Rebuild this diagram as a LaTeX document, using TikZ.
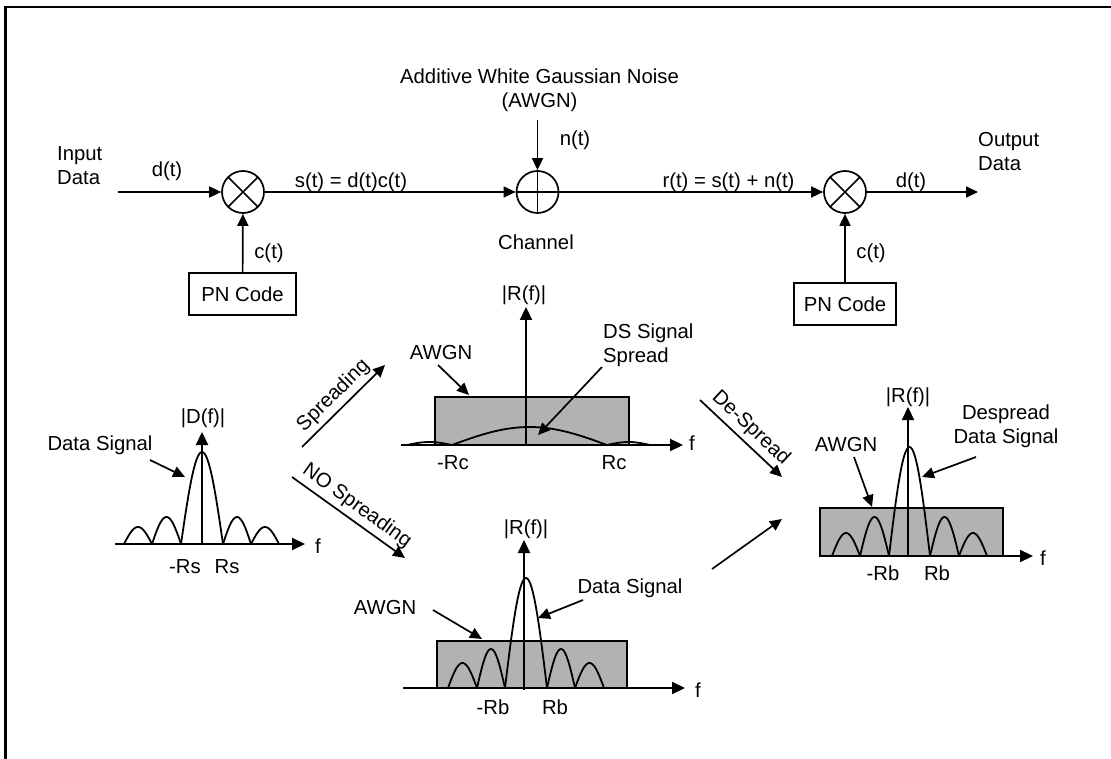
\documentclass[tikz,border=0pt]{standalone}
\usepackage{fontspec}
\setmainfont{Liberation Sans}
\usetikzlibrary{arrows.meta}
\newcommand\fs{\fontsize{20.3}{24}\selectfont}
\newcommand\sinclobe[4]{\draw[lobe] plot[domain=0:1, samples=31, variable=\t] ({#1+(#2-#1)*\t},{#3-#4*sin(180*\t)});}
\definecolor{noisegray}{RGB}{178,178,178}
\tikzset{
  conn/.style={line width=1.7pt, -{Triangle[length=12pt,width=11pt]}},
  axisarrow/.style={line width=2.2pt, -{Triangle[length=13pt,width=12pt]}},
  lobe/.style={line width=1.8pt, line join=round},
  lbl/.style={inner sep=0pt},
  slopelbl/.style={inner sep=4pt, sloped, above},
  noisebox/.style={fill=noisegray, draw, line width=1.2pt},
  mult/.style={draw, circle, line width=1.7pt, minimum size=42pt, inner sep=0pt,
    path picture={\draw[line width=1.6pt] (path picture bounding box.north west) -- (path picture bounding box.south east)
      (path picture bounding box.north east) -- (path picture bounding box.south west);}},
  adder/.style={draw, circle, line width=1.7pt, minimum size=42pt, inner sep=0pt,
    path picture={\draw[line width=1.6pt] (path picture bounding box.north) -- (path picture bounding box.south)
      (path picture bounding box.west) -- (path picture bounding box.east);}},
  pnbox/.style={draw, line width=1.7pt, minimum height=42pt, inner sep=0pt}
}
\begin{document}
\begin{tikzpicture}[x=1pt,y=-1pt,font=\fs]
\useasboundingbox (0,0) rectangle (1111,759);
% frame
\draw[line width=2.2pt] (5.5,780) -- (5.5,7.3) -- (1130,7.3);

% ---------- top block diagram ----------
\node[mult] (m1) at (243,192) {};
\node[adder] (ad) at (537.5,192) {};
\node[mult] (m2) at (845,192) {};
\node[pnbox, minimum width=107pt] (pn1) at (242.5,294) {PN Code};
\node[pnbox, minimum width=102pt] (pn2) at (845,304) {PN Code};
\coordinate (in) at (118,192);
\coordinate (out) at (978,192);
\coordinate (nsrc) at (537.5,120);

\draw[conn] (in) -- (m1);
\draw[conn] (m1) -- (ad);
\draw[conn] (nsrc) -- (ad);
\draw[conn] (ad) -- (m2);
\draw[conn] (m2) -- (out);
\draw[conn] (pn1) -- (m1);
\draw[conn] (pn2) -- (m2);

\node[lbl, anchor=west, align=left] (inlbl) at (57,166) {Input\\Data};
\node[lbl] (dt1) at (167,171) {d(t)};
\node[lbl] (st) at (351,182) {s(t) = d(t)c(t)};
\node[lbl, align=center] (awgn) at (539.5,90.5) {Additive White Gaussian Noise\\(AWGN)};
\node[lbl] (nt) at (575,140) {n(t)};
\node[lbl] (chan) at (536,242) {Channel};
\node[lbl] (rt) at (728.5,182) {r(t) = s(t) + n(t)};
\node[lbl] (dt2) at (911,182) {d(t)};
\node[lbl, anchor=west, align=left] (outlbl) at (978,151.5) {Output\\Data};
\node[lbl] (ct1) at (269,253) {c(t)};
\node[lbl] (ct2) at (871,253) {c(t)};

% ---------- left spectrum |D(f)| ----------
\sinclobe{124}{152}{544}{17}
\sinclobe{152}{181}{544}{27}
\sinclobe{181}{223}{544}{92}
\sinclobe{223}{251}{544}{27}
\sinclobe{251}{279}{544}{17}
\draw[axisarrow] (115,544) -- (305,544);
\draw[axisarrow] (202,545) -- (202,432);
\node[lbl] (dlbl) at (203,418) {|D(f)|};
\node[lbl] (f1) at (318,546) {f};
\node[lbl] (rs1) at (185,567) {-Rs};
\node[lbl] (rs2) at (227,567) {Rs};
\node[lbl] (dsig1) at (100,445) {Data Signal};
\coordinate (dsig1a) at (150,460);
\coordinate (dsig1b) at (185,477);
\draw[conn] (dsig1a) -- (dsig1b);

% ---------- spreading arrows ----------
\coordinate (sp1) at (302,447);
\coordinate (sp2) at (385,365);
\draw[conn] (sp1) -- node[slopelbl] {Spreading} (sp2);
\coordinate (nsp1) at (292,477);
\coordinate (nsp2) at (405,558);
\draw[conn] (nsp1) -- node[slopelbl] {NO Spreading} (nsp2);

% ---------- middle (spread) spectrum ----------
\draw[noisebox] (435,397) rectangle (629,445);
\sinclobe{407}{452}{445}{3}
\sinclobe{452}{607}{445}{18}
\sinclobe{607}{650}{445}{3}
\draw[axisarrow] (401,445) -- (683,445);
\draw[axisarrow] (526,446) -- (526,307);
\node[lbl] (r1lbl) at (524,295) {|R(f)|};
\node[lbl] (f2) at (692,443) {f};
\node[lbl] (rc1) at (453,463) {-Rc};
\node[lbl] (rc2) at (614,463) {Rc};
\node[lbl] (aw1) at (441,353) {AWGN};
\coordinate (aw1a) at (438,365);
\coordinate (aw1b) at (469,395);
\draw[conn] (aw1a) -- (aw1b);
\node[lbl, anchor=west, align=left] (dss) at (603,345.5) {DS Signal\\Spread};
\coordinate (dssa) at (602,367);
\coordinate (dssb) at (538,435);
\draw[conn] (dssa) -- (dssb);

% ---------- bottom (not spread) spectrum ----------
\draw[noisebox] (437,641) rectangle (627,688);
\sinclobe{448}{477}{688}{25}
\sinclobe{477}{505}{688}{39}
\sinclobe{505}{547}{688}{110}
\sinclobe{547}{575}{688}{39}
\sinclobe{575}{604}{688}{25}
\draw[axisarrow] (403,688) -- (685,688);
\draw[axisarrow] (524,690) -- (524,540);
\node[lbl] (r2lbl) at (526,529) {|R(f)|};
\node[lbl] (f3) at (698,690) {f};
\node[lbl] (rb1) at (493,707) {-Rb};
\node[lbl] (rb2) at (555,707) {Rb};
\node[lbl] (aw2) at (385,608) {AWGN};
\coordinate (aw2a) at (433,610);
\coordinate (aw2b) at (482,639);
\draw[conn] (aw2a) -- (aw2b);
\node[lbl] (dsig2) at (630,588) {Data Signal};
\coordinate (dsig2a) at (583,600);
\coordinate (dsig2b) at (538,618);
\draw[conn] (dsig2a) -- (dsig2b);

% ---------- arrows to the despread spectrum ----------
\coordinate (ds1) at (700,400);
\coordinate (ds2) at (782,477);
\draw[conn] (ds1) -- node[slopelbl] {De-Spread} (ds2);
\coordinate (bt1) at (712,569);
\coordinate (bt2) at (782,519);
\draw[conn] (bt1) -- (bt2);

% ---------- right (despread) spectrum ----------
\draw[noisebox] (820,508) rectangle (1003,556);
\sinclobe{832}{860}{556}{23}
\sinclobe{860}{889}{556}{39}
\sinclobe{889}{930}{556}{109}
\sinclobe{930}{959}{556}{39}
\sinclobe{959}{987}{556}{23}
\draw[axisarrow] (820,556) -- (1033,556);
\draw[axisarrow] (908,557) -- (908,407);
\node[lbl] (r3lbl) at (908,397) {|R(f)|};
\node[lbl] (f4) at (1043,558) {f};
\node[lbl] (rb3) at (883,573) {-Rb};
\node[lbl] (rb4) at (937,573) {Rb};
\node[lbl] (aw3) at (846,445) {AWGN};
\coordinate (aw3a) at (854,457);
\coordinate (aw3b) at (872,507);
\draw[conn] (aw3a) -- (aw3b);
\node[lbl, align=center] (dds) at (1006,426.5) {Despread\\Data Signal};
\coordinate (ddsa) at (976,457);
\coordinate (ddsb) at (922,477);
\draw[conn] (ddsa) -- (ddsb);
\end{tikzpicture}
\end{document}
